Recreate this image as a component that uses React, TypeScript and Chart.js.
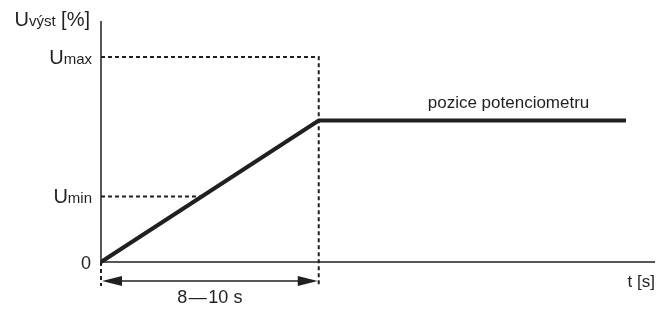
import React, { useEffect, useRef } from "react";
import { Chart, registerables } from "chart.js";

Chart.register(...registerables);

// time axis (arbitrary units: ramp ends at 9 s, the middle of 8–10 s)
const timeValues = [0, 9, 21.7];
const outputValues = [0, 69, 69];
const uMax = 100;
const uMin = 32;
const rampEnd = 9;
const xMax = 22.9;
const yMax = 117.6;
const belowAxis = -11.7;
const arrowLevel = -9.3;

const INK = "#231f20";
const FONT = "'Liberation Sans', Arial, Helvetica, sans-serif";

const annotationPlugin = {
  id: "annotations",
  afterDatasetsDraw(chart: any) {
    const { ctx, scales } = chart;
    const xs = scales.x;
    const ys = scales.y;
    const px = (v: number) => xs.getPixelForValue(v);
    const py = (v: number) => ys.getPixelForValue(v);
    ctx.save();
    ctx.strokeStyle = INK;
    ctx.fillStyle = INK;

    // axes
    ctx.lineWidth = 1.5;
    ctx.setLineDash([]);
    ctx.beginPath();
    ctx.moveTo(px(0), py(yMax));
    ctx.lineTo(px(0), py(0));
    ctx.lineTo(px(xMax), py(0));
    ctx.stroke();

    // dimension arrow
    const ay = py(arrowLevel);
    const x0 = px(0) + 1;
    const x1 = px(rampEnd) - 1;
    ctx.lineWidth = 1.5;
    ctx.beginPath();
    ctx.moveTo(x0 + 10, ay);
    ctx.lineTo(x1 - 10, ay);
    ctx.stroke();
    ctx.beginPath();
    ctx.moveTo(x0, ay);
    ctx.lineTo(x0 + 20, ay - 5);
    ctx.lineTo(x0 + 20, ay + 5);
    ctx.closePath();
    ctx.fill();
    ctx.beginPath();
    ctx.moveTo(x1, ay);
    ctx.lineTo(x1 - 20, ay - 5);
    ctx.lineTo(x1 - 20, ay + 5);
    ctx.closePath();
    ctx.fill();

    // texts
    const big = `20px ${FONT}`;
    const small = `15px ${FONT}`;
    const label = `17px ${FONT}`;
    const subLabel = (main: string, sub: string, right: number, baseline: number) => {
      ctx.font = small;
      const ws = ctx.measureText(sub).width;
      ctx.font = big;
      const wm = ctx.measureText(main).width;
      ctx.textAlign = "left";
      ctx.textBaseline = "alphabetic";
      ctx.fillText(main, right - ws - wm, baseline);
      ctx.font = small;
      ctx.fillText(sub, right - ws, baseline);
    };
    const left = px(0);
    // y-axis title
    ctx.font = big;
    const wTail = ctx.measureText(" [%]").width;
    ctx.font = small;
    const wSub = ctx.measureText("výst").width;
    ctx.font = big;
    const wU = ctx.measureText("U").width;
    const tRight = left - 11;
    const tBase = 26;
    ctx.textAlign = "left";
    ctx.fillText("U", tRight - wTail - wSub - wU, tBase);
    ctx.font = small;
    ctx.fillText("výst", tRight - wTail - wSub, tBase);
    ctx.font = big;
    ctx.fillText(" [%]", tRight - wTail, tBase);

    subLabel("U", "max", left - 9, py(uMax) + 7);
    subLabel("U", "min", left - 9, py(uMin) + 7);

    ctx.font = `18px ${FONT}`;
    ctx.textAlign = "right";
    ctx.fillText("0", left - 10, py(0) + 7);

    ctx.font = `18px ${FONT}`;
    ctx.textAlign = "center";
    ctx.fillText("8\u200a\u2014\u200a10 s", (px(0) + px(rampEnd)) / 2, ay + 22);

    ctx.font = label;
    ctx.textAlign = "right";
    ctx.fillText("t [s]", px(xMax), py(0) + 25);

    ctx.textAlign = "left";
    ctx.fillText("pozice potenciometru", px(rampEnd) + 109, py(outputValues[2]) - 13);

    ctx.restore();
  },
};

export default function App() {
  const ref = useRef<HTMLCanvasElement>(null);
  useEffect(() => {
    if (!ref.current) return;
    const rampAtMin = (uMin / outputValues[1]) * rampEnd;
    const dotted = {
      borderColor: INK,
      borderWidth: 2,
      borderDash: [4, 3],
      pointRadius: 0,
      fill: false,
      clip: false as any,
      tension: 0,
    };
    const chart = new Chart(ref.current, {
      type: "line",
      data: {
        datasets: [
          {
            data: timeValues.map((t, i) => ({ x: t, y: outputValues[i] })),
            borderColor: INK,
            borderWidth: 4,
            pointRadius: 0,
            fill: false,
            tension: 0,
            borderJoinStyle: "miter",
            clip: false as any,
          },
          {
            ...dotted,
            data: [
              { x: 0, y: uMax },
              { x: rampEnd, y: uMax },
              { x: rampEnd, y: belowAxis },
            ],
          },
          {
            ...dotted,
            data: [
              { x: 0, y: uMin },
              { x: rampAtMin, y: uMin },
            ],
          },
          {
            ...dotted,
            data: [
              { x: 0, y: 0 },
              { x: 0, y: belowAxis },
            ],
          },
        ],
      },
      options: {
        animation: false,
        responsive: false,
        maintainAspectRatio: false,
        layout: { padding: { left: 101, right: 10, top: 21, bottom: 47 } },
        plugins: { legend: { display: false }, tooltip: { enabled: false } },
        scales: {
          x: { type: "linear", min: 0, max: xMax, display: false },
          y: { type: "linear", min: 0, max: yMax, display: false },
        },
      },
      plugins: [annotationPlugin],
    });
    return () => chart.destroy();
  }, []);
  return (
    <div style={{ position: "fixed", left: 0, top: 0, width: 665, height: 309, background: "#fff" }}>
      <canvas ref={ref} width={665} height={309} style={{ width: 665, height: 309, display: "block" }} />
    </div>
  );
}
